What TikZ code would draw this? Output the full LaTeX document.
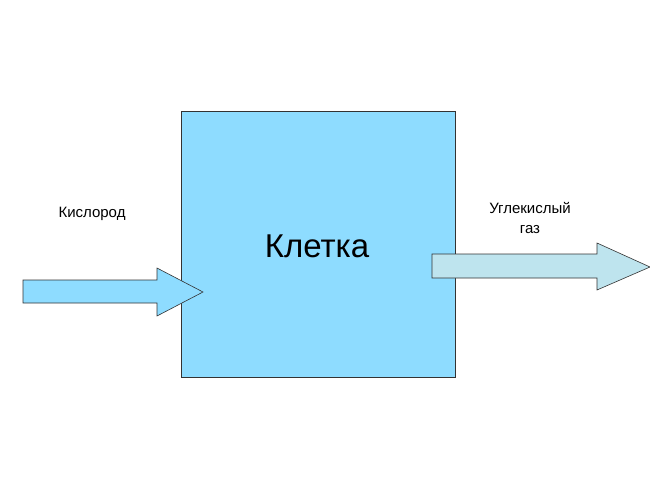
\documentclass[tikz,border=0pt]{standalone}
\usepackage{fontspec}
\setmainfont{Liberation Sans}
\begin{document}
\begin{tikzpicture}[x=1pt,y=-1pt,
  arr/.style={draw=black!80,line width=0.6pt}]
\useasboundingbox[fill=white] (0,0) rectangle (650,487);
\node[draw=black!80,line width=0.6pt,fill={rgb,255:red,142;green,220;blue,255},minimum width=274pt,minimum height=266pt,inner sep=0pt,anchor=north west] (cell) at (181,111) {};
\node[font=\fontsize{33}{36}\selectfont] (lbl) at (317,246) {Клетка};
\draw[arr,fill={rgb,255:red,142;green,220;blue,255}] (23,280) -- (157,280) -- (157,268) -- (203,292) -- (157,316) -- (157,303) -- (23,303) -- cycle;
\draw[arr,fill={rgb,255:red,190;green,228;blue,238}] (432,254) -- (597,254) -- (597,243) -- (650,267) -- (597,290) -- (597,278) -- (432,278) -- cycle;
\node[font=\fontsize{15}{18}\selectfont] (o2) at (92,214) {Кислород};
\node[font=\fontsize{15}{20}\selectfont,align=center] (co2) at (530,218) {Углекислый\\газ};
\end{tikzpicture}
\end{document}
